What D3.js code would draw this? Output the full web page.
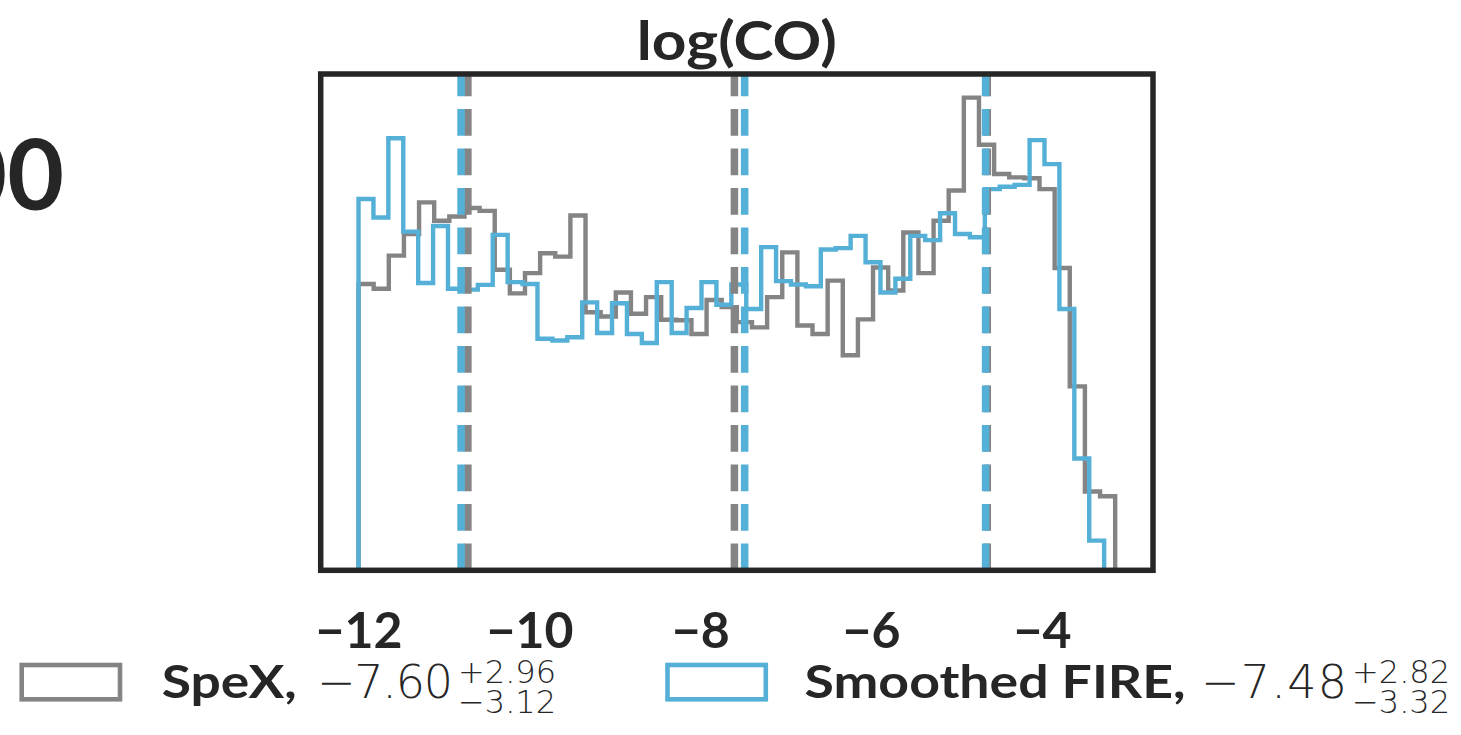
<!DOCTYPE html>
<html>
<head>
<meta charset="utf-8">
<script src="https://cdn.jsdelivr.net/npm/d3@7"></script>
<style>
  html, body { margin: 0; padding: 0; background: #ffffff; }
  svg { display: block; }
  .bold { font-family: Lato, "Open Sans", sans-serif; font-weight: 700; fill: #262626; }
  .math { font-family: "DejaVu Sans", sans-serif; font-weight: 300; fill: #262626; }
</style>
</head>
<body>
<svg id="chart" width="1461" height="735"></svg>
<script>
// Panel title and axis ticks
const panelTitle = "log(CO)";
const tickValues = [-12, -10, -8, -6, -4];

// Series labels
const seriesNames = ["SpeX", "Smoothed FIRE"];

// Binned posterior samples of log(CO), 50 equal-width bins per series
const spexRange = [-12.0, -3.143];
const spexCounts = [
  60.7, 59.7, 66.7, 71.3, 78.0, 74.1, 75.0, 76.8, 76.2, 63.7,
  58.7, 63.0, 67.2, 66.5, 75.2, 54.7, 53.8, 58.9, 54.4, 57.9,
  53.1, 53.0, 50.1, 57.3, 55.8, 52.6, 51.5, 57.9, 67.4, 51.9,
  50.1, 61.4, 45.6, 53.2, 64.2, 59.3, 71.6, 63.0, 74.1, 80.5,
  100.2, 90.2, 84.0, 83.3, 83.1, 80.8, 64.1, 39.0, 16.7, 15.7
];

const fireRange = [-12.0, -3.272];
const fireCounts = [
  78.7, 74.8, 91.6, 71.8, 60.9, 73.0, 59.7, 59.5, 60.5, 71.1,
  61.1, 60.7, 49.1, 48.7, 49.4, 56.8, 50.3, 56.6, 50.1, 48.2,
  61.1, 50.3, 55.6, 61.1, 56.3, 60.6, 55.4, 68.5, 61.3, 60.6,
  60.2, 68.0, 68.3, 70.9, 65.3, 58.9, 61.8, 70.9, 70.0, 75.7,
  71.3, 70.6, 80.8, 81.3, 81.7, 91.2, 86.1, 55.4, 23.7, 6.3
];

// Median and upper / lower offsets of each distribution
const spexStats = [-7.60, 2.96, 3.12];
const fireStats = [-7.48, 2.82, 3.32];

const colors = ["#848484", "#55b0d7"];
const ink = "#262626";

const W = 1461, H = 735;
const margin = { top: 74, right: 308, bottom: 164.7, left: 320.7 };
const svg = d3.select("#chart");

// x extent covers all samples plus 5% padding on each side
const lo = Math.min(spexRange[0], fireRange[0]);
const hi = Math.max(spexRange[1], fireRange[1]);
const pad = (hi - lo) * 0.05;
const x = d3.scaleLinear()
  .domain([lo - pad, hi + pad])
  .range([margin.left, W - margin.right]);

const yMax = d3.max([...spexCounts, ...fireCounts]) * 1.05;
const y = d3.scaleLinear()
  .domain([0, yMax])
  .range([H - margin.bottom, margin.top]);

// Step outline of a histogram
function stepPoints(range, counts) {
  const n = counts.length;
  const edges = d3.range(n + 1).map(i => range[0] + (range[1] - range[0]) * i / n);
  const pts = [[edges[0], 0]];
  counts.forEach((c, i) => { pts.push([edges[i], c]); pts.push([edges[i + 1], c]); });
  pts.push([edges[n], 0]);
  return pts;
}

const line = d3.line().x(d => x(d[0])).y(d => y(d[1]));

const series = [
  { name: seriesNames[0], range: spexRange, counts: spexCounts, stats: spexStats, color: colors[0] },
  { name: seriesNames[1], range: fireRange, counts: fireCounts, stats: fireStats, color: colors[1] }
];

const plot = svg.append("g");

series.forEach(s => {
  plot.append("path")
    .attr("d", line(stepPoints(s.range, s.counts)))
    .attr("fill", "none")
    .attr("stroke", s.color)
    .attr("stroke-width", 4.4)
    .attr("stroke-linejoin", "miter");
});

// Dashed markers at median and its bounds
series.forEach(s => {
  const [m, up, dn] = s.stats;
  [m - dn, m, m + up].forEach(v => {
    plot.append("line")
      .attr("x1", x(v)).attr("x2", x(v))
      .attr("y1", y(0)).attr("y2", y(yMax))
      .attr("stroke", s.color)
      .attr("stroke-width", 7.5)
      .attr("stroke-dasharray", "26.7 12.8");
  });
});

// Frame
svg.append("rect")
  .attr("x", margin.left).attr("y", margin.top)
  .attr("width", W - margin.right - margin.left)
  .attr("height", H - margin.bottom - margin.top)
  .attr("fill", "none")
  .attr("stroke", ink)
  .attr("stroke-width", 5.5);

// Bottom axis: labels only
const axis = svg.append("g")
  .attr("transform", `translate(0,${H - margin.bottom})`)
  .call(d3.axisBottom(x).tickValues(tickValues).tickSize(0).tickPadding(42).tickFormat(d3.format("d")));
axis.select(".domain").remove();
axis.selectAll("text")
  .attr("class", "bold")
  .style("font-size", "50px")
  .attr("fill", ink);

// Title
svg.append("text")
  .attr("class", "bold")
  .attr("x", (margin.left + W - margin.right) / 2)
  .attr("y", 60)
  .attr("text-anchor", "middle")
  .attr("textLength", 200)
  .attr("lengthAdjust", "spacingAndGlyphs")
  .style("font-size", "54px")
  .text(panelTitle);

// Neighbouring panel's label, clipped at the left edge
svg.append("text")
  .attr("class", "bold")
  .attr("x", 64)
  .attr("y", 210)
  .attr("text-anchor", "end")
  .style("font-size", "98px")
  .text("00");

// Legend
const fmt = d3.format(".2f");
const legendItems = [
  { rectX: 21.7, labelX: 161.7, labelW: 135, mathX: 317, mathW: 136 },
  { rectX: 667.5, labelX: 804.6, labelW: 381, mathX: 1201, mathW: 146 }
];
series.forEach((s, i) => {
  const L = legendItems[i];
  const g = svg.append("g");
  g.append("rect")
    .attr("x", L.rectX).attr("y", 665)
    .attr("width", 98.3).attr("height", 34.3)
    .attr("fill", "#ffffff")
    .attr("stroke", s.color)
    .attr("stroke-width", 4.6);
  g.append("text")
    .attr("class", "bold")
    .attr("x", L.labelX).attr("y", 698.3)
    .attr("textLength", L.labelW)
    .attr("lengthAdjust", "spacingAndGlyphs")
    .style("font-size", "46px")
    .text(s.name + ",");
  g.append("text")
    .attr("class", "math")
    .attr("x", L.mathX).attr("y", 698.3)
    .attr("textLength", L.mathW)
    .attr("lengthAdjust", "spacing")
    .style("font-size", "46px")
    .text(fmt(s.stats[0]));
  const endX = L.mathX + L.mathW + 5;
  g.append("text")
    .attr("class", "math")
    .attr("x", endX).attr("y", 683)
    .style("font-size", "32px")
    .text("+" + fmt(s.stats[1]));
  g.append("text")
    .attr("class", "math")
    .attr("x", endX).attr("y", 713)
    .style("font-size", "32px")
    .text(fmt(-s.stats[2]));
});
</script>
</body>
</html>
